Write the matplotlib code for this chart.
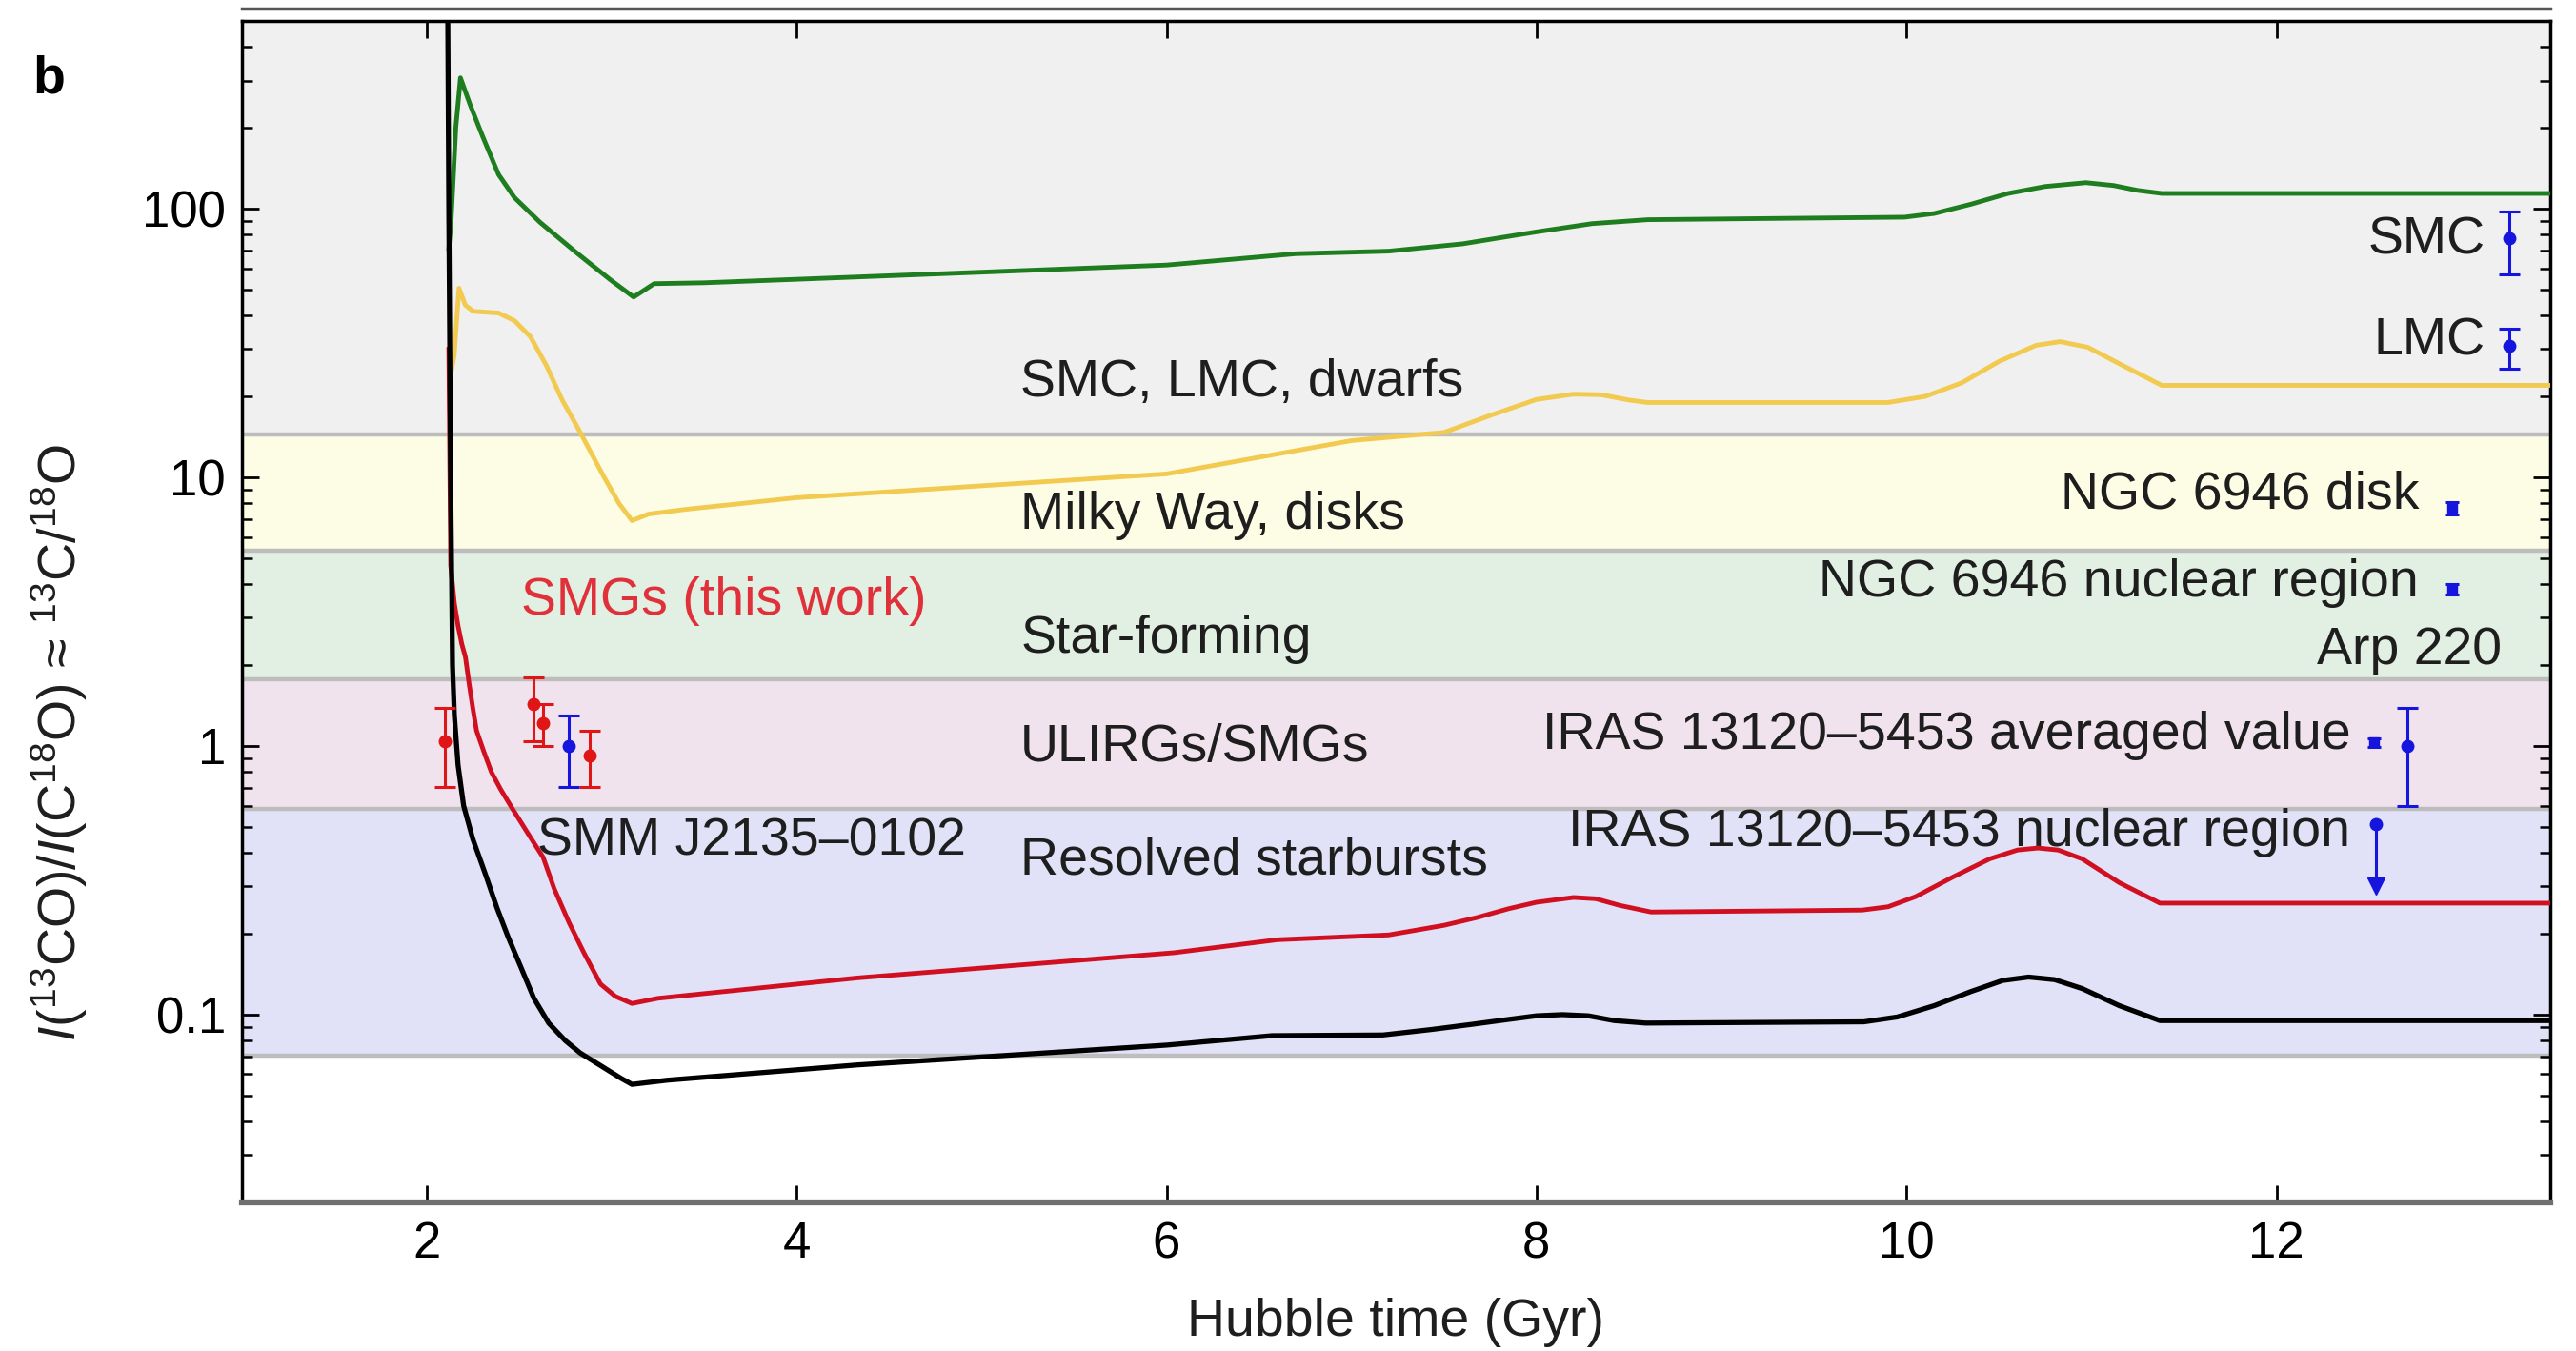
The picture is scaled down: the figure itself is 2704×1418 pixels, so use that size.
import matplotlib

matplotlib.use("Agg")
import matplotlib.pyplot as plt
from matplotlib.lines import Line2D
from matplotlib.ticker import LogLocator, NullFormatter

plt.rcParams["font.family"] = ["Liberation Sans", "DejaVu Sans"]
plt.rcParams["mathtext.fontset"] = "custom"
plt.rcParams["mathtext.rm"] = "Liberation Sans"
plt.rcParams["mathtext.it"] = "Liberation Sans:italic"

# model tracks (Hubble time in Gyr, isotopologue ratio)
black_t = [2.11, 2.12, 2.13, 2.14, 2.15, 2.17, 2.20, 2.25, 2.32, 2.38, 2.44, 2.51, 2.58, 2.66, 2.75, 2.83, 2.95,
           3.05, 3.11, 3.3, 4.33, 6.0, 6.57, 7.17, 7.43, 7.65, 7.85, 8.0, 8.14, 8.28, 8.42, 8.59, 9.77, 9.95,
           10.15, 10.35, 10.52, 10.66, 10.8, 10.95, 11.15, 11.37, 13.48]
black_r = [2000, 100, 10, 2.0, 1.3, 0.85, 0.6, 0.45, 0.33, 0.25, 0.195, 0.15, 0.115, 0.093, 0.08, 0.072, 0.064,
           0.058, 0.055, 0.057, 0.065, 0.077, 0.0835, 0.084, 0.088, 0.092, 0.096, 0.099, 0.1, 0.099, 0.095,
           0.093, 0.094, 0.098, 0.108, 0.122, 0.134, 0.138, 0.135, 0.125, 0.108, 0.095, 0.095]

red_t = [2.12, 2.13, 2.15, 2.17, 2.19, 2.21, 2.23, 2.25, 2.27, 2.31, 2.35, 2.40, 2.46, 2.55, 2.63, 2.69, 2.77,
         2.85, 2.94, 3.02, 3.11, 3.25, 4.33, 6.04, 6.6, 7.2, 7.5, 7.68, 7.85, 8.0, 8.2, 8.32, 8.45, 8.62, 9.76,
         9.9, 10.05, 10.25, 10.45, 10.6, 10.71, 10.82, 10.95, 11.15, 11.37, 13.48]
red_r = [30, 4.7, 3.4, 2.8, 2.4, 2.14, 1.7, 1.38, 1.14, 0.95, 0.8, 0.69, 0.59, 0.47, 0.385, 0.294, 0.22, 0.17,
         0.13, 0.117, 0.11, 0.115, 0.137, 0.17, 0.19, 0.198, 0.215, 0.23, 0.248, 0.262, 0.273, 0.27, 0.255,
         0.241, 0.245, 0.252, 0.275, 0.325, 0.38, 0.41, 0.417, 0.41, 0.38, 0.31, 0.26, 0.26]

green_t = [2.12, 2.132, 2.158, 2.183, 2.235, 2.304, 2.389, 2.475, 2.613, 2.819, 2.99, 3.119, 3.23, 3.5, 4.0,
           6.0, 6.7, 7.2, 7.6, 8.0, 8.3, 8.6, 9.99, 10.15, 10.35, 10.55, 10.75, 10.97, 11.12, 11.25, 11.38,
           13.48]
green_r = [71, 89, 201, 307, 244, 185, 134, 110, 89, 67.8, 54.6, 46.9, 52.6, 53, 54.6, 61.7, 68, 69.5, 74, 82,
           88, 91, 93, 96, 104, 114, 121, 125, 122, 117, 114, 114]

yellow_t = [2.13, 2.149, 2.175, 2.209, 2.252, 2.389, 2.475, 2.561, 2.647, 2.733, 2.819, 2.96, 3.04, 3.11, 3.2,
            3.4, 4.0, 6.0, 7.0, 7.5, 7.75, 8.0, 8.2, 8.35, 8.5, 8.6, 9.9, 10.1, 10.3, 10.5, 10.7, 10.83, 10.98,
            11.15, 11.38, 13.48]
yellow_r = [24, 28.4, 50.6, 43.8, 41.5, 40.9, 38.3, 33.4, 26.1, 19.4, 15.2, 10, 8, 6.9, 7.3, 7.6, 8.4, 10.3,
            13.7, 14.7, 17, 19.5, 20.4, 20.3, 19.4, 19.0, 19.0, 20, 22.5, 27, 31, 32, 30.5, 26.5, 22, 22]

# galaxy classes
band_edges = [0.0705, 0.585, 1.77, 5.33, 14.5, 500]
band_colors = ["#e1e1f7", "#f1e3ee", "#e2efe3", "#fdfde5", "#f0f0f0"]
band_labels = ["Resolved starbursts", "ULIRGs/SMGs", "Star-forming", "Milky Way, disks", "SMC, LMC, dwarfs"]
band_label_y = [0.373, 0.98, 2.5, 7.2, 22.4]

# SMGs (this work)
smg_t = [2.10, 2.58, 2.63, 2.88]
smg_r = [1.04, 1.43, 1.22, 0.92]
smg_lo = [0.705, 1.04, 1.0, 0.705]
smg_hi = [1.39, 1.80, 1.43, 1.14]

# SMM J2135-0102
smm_t, smm_r, smm_lo, smm_hi = 2.77, 1.0, 0.705, 1.30

# local comparison objects
local_names = ["SMC", "LMC", "NGC 6946 disk", "NGC 6946 nuclear region", "Arp 220",
               "IRAS 13120\u20135453 averaged value"]
local_t = [13.26, 13.26, 12.95, 12.95, 12.71, 12.53]
local_r = [77.6, 30.8, 7.7, 3.83, 1.0, 1.03]
local_lo = [57, 25.3, 7.3, 3.65, 0.6, 0.99]
local_hi = [97.6, 35.7, 8.1, 4.02, 1.39, 1.07]
local_label_t = [13.13, 13.13, 12.77, 12.77, 13.22, 12.40]
local_label_r = [76, 32, 8.6, 4.04, 2.26, 1.09]

# IRAS 13120-5453 nuclear region: upper limit
iras_nuc_t, iras_nuc_r, iras_nuc_arrow = 12.54, 0.51, 0.30

RED = "#e01515"
BLUE = "#1515dd"
TEXT = "#1e1e1e"
FS = 40

fig = plt.figure(figsize=(27.04, 14.18), dpi=100)
ax = fig.add_axes([0.0938, 0.110, 0.8962, 0.8745])
ax.set_yscale("log")
ax.set_xlim(1.0, 13.48)
ax.set_ylim(0.02, 500)

for lo, hi, col in zip(band_edges[:-1], band_edges[1:], band_colors):
    ax.axhspan(lo, hi, color=col, zorder=0, lw=0)
for edge in band_edges[:-1]:
    ax.axhline(edge, color="#bdbdbd", lw=3.2, zorder=1)
for lab, yy in zip(band_labels, band_label_y):
    ax.text(5.21, yy, lab, fontsize=FS, color=TEXT, va="center", ha="left", zorder=2)

ax.plot(green_t, green_r, color="#1e7d1e", lw=3.5, zorder=3, solid_joinstyle="round")
ax.plot(yellow_t, yellow_r, color="#f2ca50", lw=3.5, zorder=3, solid_joinstyle="round")
ax.plot(red_t, red_r, color="#d01020", lw=3.5, zorder=3, solid_joinstyle="round")
ax.plot(black_t, black_r, color="black", lw=3.8, zorder=4, solid_joinstyle="round")

ebkw = dict(fmt="o", ms=9, capsize=8, elinewidth=2.2, capthick=2.2, zorder=5)
ax.errorbar(smg_t, smg_r,
            yerr=[[r - lo for r, lo in zip(smg_r, smg_lo)], [hi - r for r, hi in zip(smg_r, smg_hi)]],
            color=RED, **ebkw)
ax.errorbar([smm_t], [smm_r], yerr=[[smm_r - smm_lo], [smm_hi - smm_r]], color=BLUE, **ebkw)

for i, name in enumerate(local_names):
    small = name.startswith("NGC") or "averaged" in name
    ax.errorbar([local_t[i]], [local_r[i]],
                yerr=[[local_r[i] - local_lo[i]], [local_hi[i] - local_r[i]]],
                color=BLUE, fmt="s" if small else "o", ms=7 if small else 9,
                capsize=5 if small else 8, elinewidth=2.2, capthick=2.2, zorder=5)
    ax.text(local_label_t[i], local_label_r[i], name, fontsize=FS, color=TEXT, ha="right", va="center",
            zorder=2)

ax.plot([iras_nuc_t, iras_nuc_t], [iras_nuc_r, iras_nuc_arrow * 1.08], color=BLUE, lw=2.2, zorder=5)
ax.plot([iras_nuc_t], [iras_nuc_r], "o", color=BLUE, ms=9, zorder=5)
ax.plot([iras_nuc_t], [iras_nuc_arrow], "v", color=BLUE, ms=13, zorder=5)
ax.text(12.40, 0.475, "IRAS 13120\u20135453 nuclear region", fontsize=FS, color=TEXT, ha="right",
        va="center", zorder=2)

ax.text(2.51, 3.46, "SMGs (this work)", fontsize=FS, color="#e0303a", ha="left", va="center", zorder=2)
ax.text(2.60, 0.44, "SMM J2135\u20130102", fontsize=FS, color=TEXT, ha="left", va="center", zorder=2)

# axes styling
ax.set_xticks([2, 4, 6, 8, 10, 12])
ax.set_yticks([0.1, 1, 10, 100])
ax.set_yticklabels(["0.1", "1", "10", "100"])
ax.yaxis.set_minor_locator(LogLocator(base=10, subs=range(2, 10), numticks=20))
ax.yaxis.set_minor_formatter(NullFormatter())
ax.tick_params(which="both", direction="in", top=True, right=True, labelsize=38, colors="black")
ax.tick_params(which="major", length=13, width=2)
ax.tick_params(which="minor", length=8, width=1.8)
ax.tick_params(axis="x", pad=14)
ax.tick_params(axis="y", pad=12)
for side in ["left", "right", "top"]:
    ax.spines[side].set_linewidth(2.5)
ax.spines["bottom"].set_linewidth(4.5)
ax.spines["bottom"].set_color("#707070")

ax.set_xlabel("Hubble time (Gyr)", fontsize=FS, color=TEXT, labelpad=22)
ax.set_ylabel(r"$I$($^{13}$CO)/$I$(C$^{18}$O) ≈ $^{13}$C/$^{18}$O", fontsize=FS, color=TEXT)
ax.yaxis.set_label_coords(-0.066, 0.389)

fig.text(34 / 2704, 1 - 83 / 1418, "b", fontsize=40, fontweight="bold", va="center", ha="left")
fig.add_artist(Line2D([0.0938, 0.99], [1 - 9 / 1418, 1 - 9 / 1418], color="#555555", lw=2.5))

fig.savefig("out.png", dpi=100)
plt.close(fig)
